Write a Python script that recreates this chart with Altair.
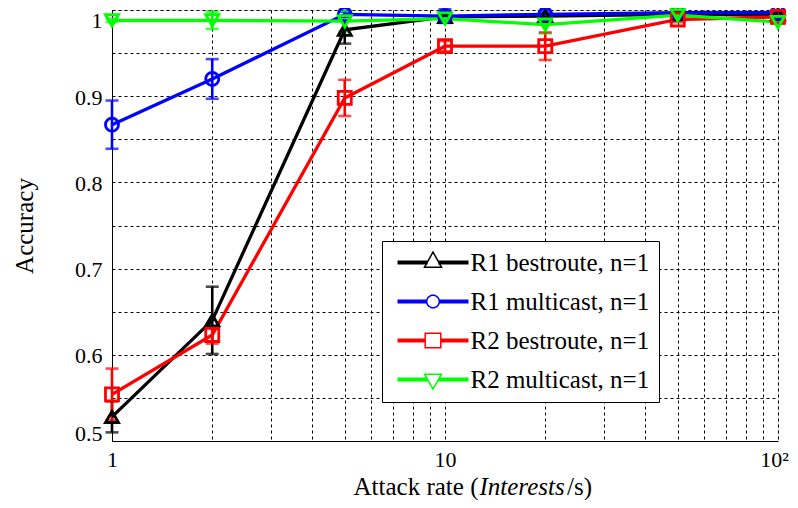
import math
import altair as alt
import pandas as pd

# ---------------- data ----------------
x_rates = [1, 2, 5, 10, 20, 50, 100]
series_names = ["R1 bestroute, n=1", "R1 multicast, n=1",
                "R2 bestroute, n=1", "R2 multicast, n=1"]
r1_best = [0.528, 0.640, 0.977, 0.992, 0.993, 0.995, 0.995]
r1_best_err = [0.018, 0.039, 0.016, 0.004, 0.003, 0.002, 0.002]
r1_multi = [0.867, 0.920, 0.995, 0.993, 0.995, 0.997, 0.997]
r1_multi_err = [0.028, 0.023, 0.003, 0.008, 0.004, 0.002, 0.002]
r2_best = [0.554, 0.623, 0.898, 0.958, 0.958, 0.989, 0.992]
r2_best_err = [0.030, 0.010, 0.021, 0.006, 0.016, 0.003, 0.003]
r2_multi = [0.988, 0.988, 0.987, 0.990, 0.983, 0.994, 0.986]
r2_multi_err = [0.002, 0.010, 0.012, 0.004, 0.010, 0.002, 0.002]

x_grid_values = [1, 2, 3, 4, 5, 6, 7, 8, 9, 10, 20, 30, 40, 50, 60, 70, 80, 90, 100]
y_grid_values = [0.5, 0.55, 0.6, 0.65, 0.7, 0.75, 0.8, 0.85, 0.9, 0.95, 1.0]
x_title_parts = ["Attack rate (", "Interests", "/s)"]
y_title = "Accuracy"

# ---------------- styles ----------------
colors = ["#000000", "#0000ff", "#ff0000", "#00ff00"]
markers = ["triangle-up", "circle", "square", "triangle-down"]
FONT = "Liberation Serif"

means = [r1_best, r1_multi, r2_best, r2_multi]
errs = [r1_best_err, r1_multi_err, r2_best_err, r2_multi_err]
rows = []
for name, m, e in zip(series_names, means, errs):
    for xv, mv, ev in zip(x_rates, m, e):
        rows.append({"series": name, "x": xv, "y": mv, "lo": mv - ev, "hi": mv + ev})
df = pd.DataFrame(rows)

# legend symbols: a thick line with a hollow marker in the middle (pixel units / 10)
U = 10.0
def fmt(v):
    return f"{v / U:.3f}"

def poly(points):
    s = "M" + " L".join(f"{fmt(a)},{fmt(b)}" for a, b in points) + " Z"
    return s

def bar(gap):
    parts = []
    for yy in (-1.25, 0.0, 1.25):
        parts.append(f"M{fmt(-35.5)},{fmt(yy)} L{fmt(-gap)},{fmt(yy)}")
        parts.append(f"M{fmt(gap)},{fmt(yy)} L{fmt(35.5)},{fmt(yy)}")
    return " ".join(parts)

circle_pts = [(6.3 * math.cos(2 * math.pi * k / 32), 6.3 * math.sin(2 * math.pi * k / 32)) for k in range(32)]
legend_paths = [
    bar(5.3) + " " + poly([(0, -10.5), (8.5, 4.8), (-8.5, 4.8)]),
    bar(6.3) + " " + poly(circle_pts),
    bar(7.8) + " " + poly([(-7.8, -7.3), (7.8, -7.3), (7.8, 7.3), (-7.8, 7.3)]),
    bar(5.3) + " " + poly([(-8.5, -5.3), (8.5, -5.3), (0, 9.5)]),
]

x_enc = alt.X("x:Q",
              scale=alt.Scale(type="log", domain=[1, 100], nice=False),
              axis=alt.Axis(values=x_grid_values,
                            labelExpr="datum.value == 1 ? '1' : (datum.value == 10 ? '10' : (datum.value == 100 ? '10²' : ''))",
                            grid=True, gridDash=[3, 3], gridColor="#000000", gridWidth=1, gridOpacity=1,
                            ticks=False, domainColor="#000000", domainWidth=1,
                            labelFont=FONT, labelFontSize=22, labelColor="#000000", labelPadding=8,
                            labelOffset={"condition": {"test": "datum.value > 99", "value": -4}, "value": 0},
                            labelFlush=False, labelOverlap=False, title=None))
y_axis = alt.Axis(values=y_grid_values,
                  labelExpr="datum.value > 0.999 ? '1' : (abs(datum.value * 10 - round(datum.value * 10)) < 0.001 ? format(datum.value, '.1f') : '')",
                  grid=True, gridDash=[3, 3], gridColor="#000000", gridWidth=1, gridOpacity=1,
                  ticks=False, domainColor="#000000", domainWidth=1,
                  labelFont=FONT, labelFontSize=22, labelColor="#000000", labelPadding=10,
                  labelOffset={"condition": [{"test": "datum.value < 0.51", "value": -8},
                                             {"test": "datum.value > 0.999", "value": 10}], "value": 1},
                  labelOverlap=False,
                  title=y_title, titleFont=FONT, titleFontSize=25, titleFontWeight="normal",
                  titleColor="#000000", titlePadding=37)
y_scale = alt.Scale(domain=[0.5, 1.0], nice=False, zero=False)

stroke_enc = alt.Stroke("series:N", scale=alt.Scale(domain=series_names, range=colors), legend=None)
fill_enc = alt.Fill("series:N", scale=alt.Scale(domain=series_names, range=colors), legend=None)

base = alt.Chart(df)

rules = base.mark_rule(strokeWidth=2.6).encode(
    x=x_enc, y=alt.Y("lo:Q", scale=y_scale, axis=y_axis), y2="hi:Q", stroke=stroke_enc)
caps_lo = base.mark_tick(orient="horizontal", size=13, thickness=2.6).encode(
    x=x_enc, y=alt.Y("lo:Q", scale=y_scale, axis=y_axis), fill=fill_enc)
caps_hi = base.mark_tick(orient="horizontal", size=13, thickness=2.6).encode(
    x=x_enc, y=alt.Y("hi:Q", scale=y_scale, axis=y_axis), fill=fill_enc)
lines = base.mark_line(strokeWidth=3.3).encode(
    x=x_enc, y=alt.Y("y:Q", scale=y_scale, axis=y_axis), stroke=stroke_enc)
points = base.mark_point(filled=False, size=170, strokeWidth=2.8, opacity=1).encode(
    x=x_enc, y=alt.Y("y:Q", scale=y_scale, axis=y_axis), stroke=stroke_enc,
    shape=alt.Shape("series:N", scale=alt.Scale(domain=series_names, range=markers), legend=None))

leg = alt.Legend(title=None, orient="none", legendX=270, legendY=231,
                 fillColor="#ffffff", strokeColor="#000000", padding=9,
                 symbolSize=400, symbolStrokeWidth=1.5, symbolOpacity=1,
                 symbolOffset=29.5, labelOffset=25, rowPadding=13,
                 labelFont=FONT, labelFontSize=25, labelColor="#000000", labelLimit=400)
legend_layer = base.transform_filter("false").mark_point(filled=False).encode(
    x=x_enc, y=alt.Y("y:Q", scale=y_scale, axis=y_axis),
    color=alt.Color("series:N", scale=alt.Scale(domain=series_names, range=colors), legend=leg),
    shape=alt.Shape("series:N", scale=alt.Scale(domain=series_names, range=legend_paths), legend=leg))

t1 = alt.Chart(pd.DataFrame({"t": [x_title_parts[0]]})).mark_text(
    font=FONT, fontSize=25, align="right", baseline="alphabetic", color="#000000").encode(
    text="t:N", x=alt.value(366.5), y=alt.value(485))
t2 = alt.Chart(pd.DataFrame({"t": [x_title_parts[1]]})).mark_text(
    font=FONT, fontSize=25, fontStyle="italic", align="left", baseline="alphabetic", color="#000000").encode(
    text="t:N", x=alt.value(367.5), y=alt.value(485))
t3 = alt.Chart(pd.DataFrame({"t": [x_title_parts[2]]})).mark_text(
    font=FONT, fontSize=25, align="left", baseline="alphabetic", color="#000000").encode(
    text="t:N", x=alt.value(455), y=alt.value(485))

chart = alt.layer(rules, caps_lo, caps_hi, lines, points, legend_layer, t1, t2, t3).resolve_scale(
    shape="independent", color="independent"
).properties(
    width=666, height=431,
    autosize=alt.AutoSizeParams(type="none"),
    padding={"left": 104, "top": 2, "right": 12, "bottom": 59},
    background="#ffffff",
).configure_view(stroke="transparent").configure(font=FONT)

chart.save("out.html", embed_options={"renderer": "svg", "actions": False})
